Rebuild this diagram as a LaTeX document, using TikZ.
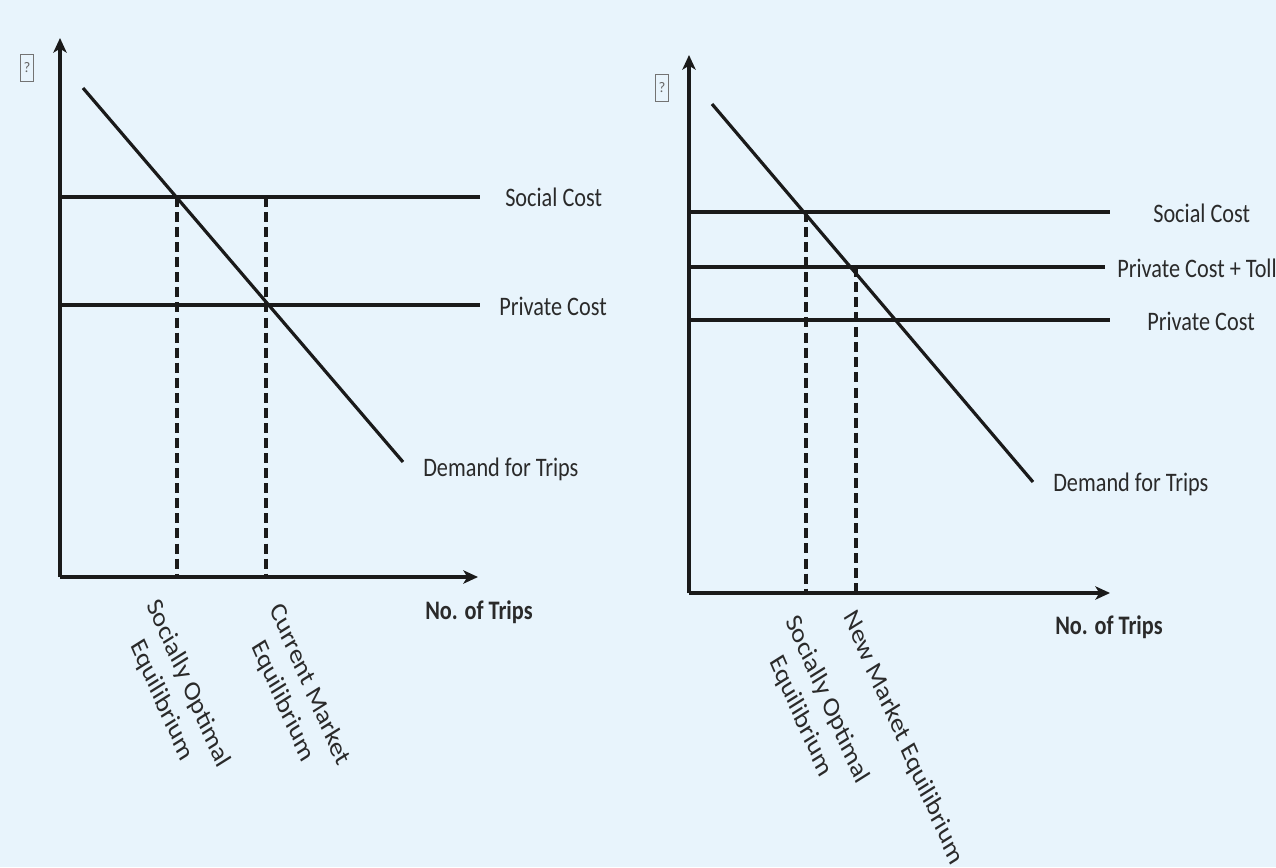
\documentclass[tikz,border=0pt]{standalone}
\usepackage{fontspec}
\setmainfont{Carlito}
\usetikzlibrary{arrows.meta}
\definecolor{bg}{HTML}{E8F4FC}
\definecolor{ink}{HTML}{1A1A1A}
\definecolor{txt}{HTML}{2A2A2A}
\begin{document}
\begin{tikzpicture}[x=0.75pt,y=-0.75pt,
  curve/.style={draw=ink, line width=2.4pt},
  guide/.style={draw=ink, line width=2.4pt, dash pattern=on 7.5pt off 3.8pt},
  axis/.style={draw=ink, line width=2.4pt, -{Stealth[length=11pt,width=10pt,inset=3pt]}},
  lbl/.style={inner sep=0pt, anchor=west, text=txt, font=\fontsize{16.7}{20}\selectfont, yscale=1.2},
  blbl/.style={lbl, font=\fontsize{16.7}{20}\selectfont\bfseries},
  rlbl/.style={inner sep=0pt, align=center, text=txt, font=\fontsize{17.8}{22.5}\selectfont, yscale=1.2, rotate=-62.4},
  qbox/.style={draw=black!55, line width=1pt, inner sep=0pt, minimum width=10pt, minimum height=20pt, font=\fontsize{11}{11}\selectfont, text=black!60}]
\fill[bg] (0,0) rectangle (1276,867);
\useasboundingbox (0,0) rectangle (1276,867);

% ---------- left chart ----------
\coordinate (Lo) at (60,577);
\coordinate (Ly) at (60,38);
\coordinate (Lx) at (478,577);
\coordinate (Ld1) at (83,88);
\coordinate (Ld2) at (403,462);
\coordinate (Ls1) at (60,197);
\coordinate (Ls2) at (480,197);
\coordinate (Lp1) at (60,305);
\coordinate (Lp2) at (480,305);
\coordinate (La) at (177,197);
\coordinate (La0) at (177,577);
\coordinate (Lb) at (266,197);
\coordinate (Lb0) at (266,577);

\draw[guide] (La) -- (La0);
\draw[guide] (Lb) -- (Lb0);
\draw[curve] (Ls1) -- (Ls2);
\draw[curve] (Lp1) -- (Lp2);
\draw[curve] (Ld1) -- (Ld2);
\draw[axis] (Lo) -- (Ly);
\draw[axis] (Lo) -- (Lx);

\node[qbox] (Lq) at (27,68) {?};
\node[lbl] (Lsc) at (505,197) {Social Cost};
\node[lbl] (Lpc) at (499,306) {Private Cost};
\node[lbl] (Ldt) at (423,469) {Demand for Trips};
\node[blbl] (Lnt) at (425,612) {No. of Trips};
\node[rlbl] (Lso) at (175,692) {Socially Optimal\\Equilibrium};
\node[rlbl] (Lcm) at (296,693) {Current Market\\Equilibrium};

% ---------- right chart ----------
\coordinate (Ro) at (689,593);
\coordinate (Ry) at (689,55);
\coordinate (Rx) at (1110,593);
\coordinate (Rd1) at (712,104);
\coordinate (Rd2) at (1033,482);
\coordinate (Rs1) at (689,212);
\coordinate (Rs2) at (1110,212);
\coordinate (Rt1) at (689,267);
\coordinate (Rt2) at (1105,267);
\coordinate (Rp1) at (689,320);
\coordinate (Rp2) at (1110,320);
\coordinate (Ra) at (806,212);
\coordinate (Ra0) at (806,593);
\coordinate (Rb) at (856,267);
\coordinate (Rb0) at (856,593);

\draw[guide] (Ra) -- (Ra0);
\draw[guide] (Rb) -- (Rb0);
\draw[curve] (Rs1) -- (Rs2);
\draw[curve] (Rt1) -- (Rt2);
\draw[curve] (Rp1) -- (Rp2);
\draw[curve] (Rd1) -- (Rd2);
\draw[axis] (Ro) -- (Ry);
\draw[axis] (Ro) -- (Rx);

\node[qbox] (Rq) at (662,88) {?};
\node[lbl] (Rsc) at (1153,213) {Social Cost};
\node[lbl] (Rtc) at (1117,268) {Private Cost + Toll};
\node[lbl] (Rpc) at (1147,321) {Private Cost};
\node[lbl] (Rdt) at (1053,484) {Demand for Trips};
\node[blbl] (Rnt) at (1055,627) {No. of Trips};
\node[rlbl] (Rso) at (814,708) {Socially Optimal\\Equilibrium};
\node[rlbl] (Rnm) at (903,738) {New Market Equilibrium};
\end{tikzpicture}
\end{document}
